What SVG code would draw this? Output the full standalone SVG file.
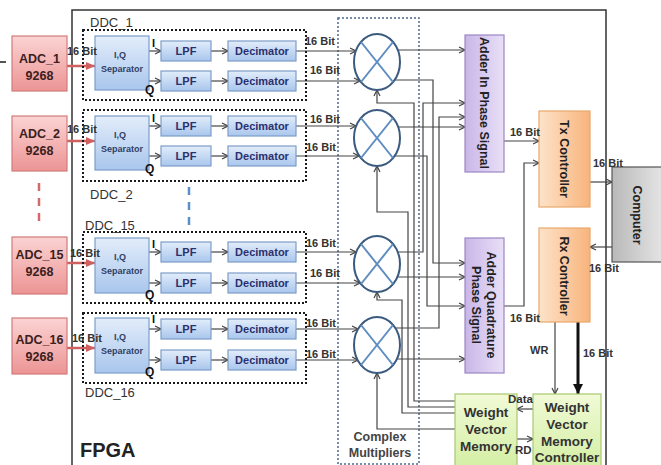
<svg xmlns="http://www.w3.org/2000/svg" width="661" height="465" viewBox="0 0 661 465">
<defs>
<linearGradient id="gRed" x1="0" y1="0" x2="0" y2="1"><stop offset="0" stop-color="#fbd3d3"/><stop offset="1" stop-color="#ec9494"/></linearGradient>
<linearGradient id="gBlue" x1="0" y1="0" x2="0" y2="1"><stop offset="0" stop-color="#e2edfa"/><stop offset="1" stop-color="#a9c6ed"/></linearGradient>
<linearGradient id="gPur" x1="0" y1="0" x2="1" y2="0"><stop offset="0" stop-color="#c9b6e8"/><stop offset="1" stop-color="#e9e0f7"/></linearGradient>
<linearGradient id="gOr" x1="0" y1="0" x2="1" y2="0"><stop offset="0" stop-color="#fde3c9"/><stop offset="1" stop-color="#f8b47c"/></linearGradient>
<linearGradient id="gGray" x1="0" y1="0" x2="1" y2="0"><stop offset="0" stop-color="#b9b9b9"/><stop offset="1" stop-color="#ececec"/></linearGradient>
<linearGradient id="gGrn" x1="0" y1="0" x2="0" y2="1"><stop offset="0" stop-color="#f1fad6"/><stop offset="1" stop-color="#d3eea3"/></linearGradient>
<marker id="a" markerWidth="8" markerHeight="8" refX="7" refY="4" orient="auto" markerUnits="userSpaceOnUse"><path d="M1,1 L7,4 L1,7" fill="none" stroke="#444" stroke-width="1.2"/></marker>
<marker id="ar" markerWidth="10" markerHeight="10" refX="9" refY="5" orient="auto" markerUnits="userSpaceOnUse"><path d="M0,1 L9,5 L0,9 Z" fill="#d06060"/></marker>
<marker id="ab" markerWidth="12" markerHeight="12" refX="10" refY="6" orient="auto" markerUnits="userSpaceOnUse"><path d="M0,1 L10,6 L0,11 Z" fill="#111"/></marker>
<style>
text{font-family:"Liberation Sans",Arial,sans-serif;}
.adc{fill:url(#gRed);stroke:#d37b7b;stroke-width:1.2}
.adct{font-size:12.5px;font-weight:bold;fill:#3a2020;text-anchor:middle}
.blue{fill:url(#gBlue);stroke:#7d9dc8;stroke-width:1.2}
.bt{font-size:11px;font-weight:bold;fill:#2b2f6e;text-anchor:middle}
.st{font-size:9px;font-weight:bold;fill:#2f3f66;text-anchor:middle}
.ddc{fill:none;stroke:#1a1a1a;stroke-width:2;stroke-dasharray:2 2}
.lbl{font-size:13px;fill:#333}
.bit{font-size:11px;font-weight:bold;fill:#333}
.iq{font-size:11px;font-weight:bold;fill:#111}
.ln{fill:none;stroke:#444;stroke-width:1.2}
.arr{fill:none;stroke:#444;stroke-width:1.2;marker-end:url(#a)}
.red{fill:none;stroke:#d06060;stroke-width:2.5;marker-end:url(#ar)}
.mul{fill:#fff;stroke:#3b5a80;stroke-width:2}
.mx{stroke:#5f8dc0;stroke-width:2}
.pur{fill:url(#gPur);stroke:#9a86c2;stroke-width:1.2}
.orn{fill:url(#gOr);stroke:#eaa86c;stroke-width:1.2}
.grn{fill:url(#gGrn);stroke:#a8c972;stroke-width:1.2}
.vt{font-size:12.5px;font-weight:bold;fill:#222;text-anchor:middle}
.gt{font-size:13.5px;font-weight:bold;fill:#333;text-anchor:middle}
</style>
</defs>
<rect width="661" height="465" fill="#fff"/>

<!-- FPGA boundary -->
<g id="fpga">
<path d="M72,465 V10 H606 V465" fill="none" stroke="#333" stroke-width="1.5"/>
<text x="80" y="457" style="font-size:20px;font-weight:bold;fill:#222">FPGA</text>
</g>

<!-- Complex multipliers region -->
<g id="complex-multipliers">
<rect x="338" y="18" width="81" height="446" fill="none" stroke="#4a6a8e" stroke-width="1.5" stroke-dasharray="2 2"/>
<text x="380" y="441" style="font-size:12.5px;font-weight:bold;fill:#444;text-anchor:middle">Complex</text>
<text x="380" y="457" style="font-size:12.5px;font-weight:bold;fill:#444;text-anchor:middle">Multipliers</text>
</g>

<!-- ellipsis dashes -->
<line x1="39" y1="183" x2="39" y2="226" stroke="#d36a6a" stroke-width="2.5" stroke-dasharray="8 7"/>
<line x1="189" y1="187" x2="189" y2="232" stroke="#5b8ec8" stroke-width="2.5" stroke-dasharray="8 7"/>

<!-- connectors -->
<g id="connectors">
<line x1="0" y1="62" x2="6" y2="62" stroke="#555" stroke-width="2"/>
<!-- ADC to separators -->
<path class="red" d="M67,66 H95"/>
<path class="red" d="M67,141 H95"/>
<path class="red" d="M67,263 H95"/>
<path class="red" d="M67,348 H95"/>
<!-- separator to LPF -->
<path class="arr" d="M149,51 H161"/><path class="arr" d="M149,81 H161"/>
<path class="arr" d="M149,126 H161"/><path class="arr" d="M149,156 H161"/>
<path class="arr" d="M149,252 H161"/><path class="arr" d="M149,283 H161"/>
<path class="arr" d="M149,329 H161"/><path class="arr" d="M149,360 H161"/>
<!-- LPF to decimator -->
<path class="arr" d="M211,51 H228"/><path class="arr" d="M211,81 H228"/>
<path class="arr" d="M211,126 H228"/><path class="arr" d="M211,156 H228"/>
<path class="arr" d="M211,252 H228"/><path class="arr" d="M211,283 H228"/>
<path class="arr" d="M211,329 H228"/><path class="arr" d="M211,360 H228"/>
<!-- decimator to multipliers -->
<path class="arr" d="M296,51 H356"/><path class="arr" d="M296,81 H360"/>
<path class="arr" d="M296,126 H356"/><path class="arr" d="M296,156 H359"/>
<path class="arr" d="M296,252 H356"/><path class="arr" d="M296,283 H360"/>
<path class="arr" d="M296,329 H358"/><path class="arr" d="M296,360 H358"/>
<!-- multiplier outputs -->
<path class="arr" d="M377,50 H465"/>
<path class="arr" d="M377,80 H433 V263 H465"/>
<path class="arr" d="M377,127 H465"/>
<path class="arr" d="M377,156 H427 V306 H465"/>
<path class="arr" d="M377,252 H423 V103 H465"/>
<path class="arr" d="M377,277 H465"/>
<path class="arr" d="M377,328 H439 V117 H465"/>
<path class="arr" d="M377,359 H465"/>
<!-- weights to multipliers -->
<path class="arr" d="M455,401 H414 V103 H377 V90"/>
<path class="arr" d="M455,407 H408 V212 H377 V166"/>
<path class="arr" d="M455,413 H402 V300 H377 V292"/>
<path class="arr" d="M455,429 H377 V373"/>
<!-- adders to Tx -->
<path class="arr" d="M504,141 H539"/>
<path class="arr" d="M504,306 H524 V163 H539"/>
<!-- Tx / Rx / computer -->
<path class="arr" d="M590,182 H612"/>
<path class="arr" d="M612,247 H590"/>
<!-- Rx to WVM controller -->
<path class="arr" d="M555,322 V394"/>
<path d="M578,322 V394" fill="none" stroke="#111" stroke-width="3" marker-end="url(#ab)"/>
<!-- Data / RD -->
<path class="arr" d="M533,409 H517"/>
<path class="arr" d="M517,439 H533"/>
</g>

<!-- ADCs -->
<g id="adc1"><rect class="adc" x="12" y="36" width="55" height="55"/><text class="adct" x="39.5" y="63">ADC_1</text><text class="adct" x="39.5" y="80">9268</text></g>
<g id="adc2"><rect class="adc" x="12" y="116" width="55" height="55"/><text class="adct" x="39.5" y="138">ADC_2</text><text class="adct" x="39.5" y="155">9268</text></g>
<g id="adc15"><rect class="adc" x="12" y="237" width="55" height="57"/><text class="adct" x="39.5" y="259">ADC_15</text><text class="adct" x="39.5" y="276">9268</text></g>
<g id="adc16"><rect class="adc" x="12" y="318" width="55" height="56"/><text class="adct" x="39.5" y="344">ADC_16</text><text class="adct" x="39.5" y="361">9268</text></g>

<!-- DDC 1 -->
<g id="ddc1">
<rect class="ddc" x="83" y="30" width="223" height="70"/>
<text class="lbl" x="90" y="27">DDC_1</text>
<rect class="blue" x="95" y="36" width="54" height="54"/>
<text class="st" x="120" y="58">I,Q</text><text class="st" x="122" y="72">Separator</text>
<text class="iq" x="152" y="47">I</text><text class="iq" x="145" y="94" style="font-size:12px">Q</text>
<rect class="blue" x="161" y="41" width="50" height="20"/><text class="bt" x="186" y="55">LPF</text>
<rect class="blue" x="161" y="71" width="50" height="20"/><text class="bt" x="186" y="85">LPF</text>
<rect class="blue" x="228" y="41" width="68" height="20"/><text class="bt" x="262" y="55">Decimator</text>
<rect class="blue" x="228" y="71" width="68" height="20"/><text class="bt" x="262" y="85">Decimator</text>
</g>
<!-- DDC 2 -->
<g id="ddc2">
<rect class="ddc" x="83" y="110" width="223" height="71"/>
<text class="lbl" x="90" y="199">DDC_2</text>
<rect class="blue" x="95" y="116" width="54" height="54"/>
<text class="st" x="120" y="138">I,Q</text><text class="st" x="122" y="152">Separator</text>
<text class="iq" x="152" y="122">I</text><text class="iq" x="145" y="173" style="font-size:12px">Q</text>
<rect class="blue" x="161" y="116" width="50" height="20"/><text class="bt" x="186" y="130">LPF</text>
<rect class="blue" x="161" y="146" width="50" height="20"/><text class="bt" x="186" y="160">LPF</text>
<rect class="blue" x="228" y="116" width="68" height="20"/><text class="bt" x="262" y="130">Decimator</text>
<rect class="blue" x="228" y="146" width="68" height="20"/><text class="bt" x="262" y="160">Decimator</text>
</g>
<!-- DDC 15 -->
<g id="ddc15">
<rect class="ddc" x="83" y="232" width="223" height="71"/>
<text class="lbl" x="85" y="230">DDC_15</text>
<rect class="blue" x="95" y="238" width="54" height="55"/>
<text class="st" x="120" y="260">I,Q</text><text class="st" x="122" y="274">Separator</text>
<text class="iq" x="152" y="248">I</text><text class="iq" x="145" y="299" style="font-size:12px">Q</text>
<rect class="blue" x="161" y="242" width="50" height="20"/><text class="bt" x="186" y="256">LPF</text>
<rect class="blue" x="161" y="273" width="50" height="20"/><text class="bt" x="186" y="287">LPF</text>
<rect class="blue" x="228" y="242" width="68" height="20"/><text class="bt" x="262" y="256">Decimator</text>
<rect class="blue" x="228" y="273" width="68" height="20"/><text class="bt" x="262" y="287">Decimator</text>
</g>
<!-- DDC 16 -->
<g id="ddc16">
<rect class="ddc" x="83" y="313" width="223" height="70"/>
<text class="lbl" x="85" y="397">DDC_16</text>
<rect class="blue" x="95" y="318" width="54" height="55"/>
<text class="st" x="120" y="340">I,Q</text><text class="st" x="122" y="354">Separator</text>
<text class="iq" x="152" y="323">I</text><text class="iq" x="145" y="376" style="font-size:12px">Q</text>
<rect class="blue" x="161" y="319" width="50" height="20"/><text class="bt" x="186" y="333">LPF</text>
<rect class="blue" x="161" y="350" width="50" height="20"/><text class="bt" x="186" y="364">LPF</text>
<rect class="blue" x="228" y="319" width="68" height="20"/><text class="bt" x="262" y="333">Decimator</text>
<rect class="blue" x="228" y="350" width="68" height="20"/><text class="bt" x="262" y="364">Decimator</text>
</g>

<!-- multipliers -->
<g id="mul1"><ellipse class="mul" cx="377" cy="62" rx="23" ry="28"/><line class="mx" x1="361" y1="42" x2="393" y2="82"/><line class="mx" x1="393" y1="42" x2="361" y2="82"/></g>
<g id="mul2"><ellipse class="mul" cx="377" cy="138" rx="23" ry="28"/><line class="mx" x1="361" y1="118" x2="393" y2="158"/><line class="mx" x1="393" y1="118" x2="361" y2="158"/></g>
<g id="mul3"><ellipse class="mul" cx="377" cy="264" rx="23" ry="28"/><line class="mx" x1="361" y1="244" x2="393" y2="284"/><line class="mx" x1="393" y1="244" x2="361" y2="284"/></g>
<g id="mul4"><ellipse class="mul" cx="377" cy="345" rx="23" ry="28"/><line class="mx" x1="361" y1="325" x2="393" y2="365"/><line class="mx" x1="393" y1="325" x2="361" y2="365"/></g>

<!-- adders -->
<g id="adder-in-phase"><rect class="pur" x="465" y="35" width="39" height="137"/><text class="vt" transform="translate(484,103) rotate(90)" y="4.5">Adder In Phase Signal</text></g>
<g id="adder-quadrature"><rect class="pur" x="465" y="238" width="39" height="135"/><text class="vt" transform="translate(484,305) rotate(90)"><tspan x="0" y="-3">Adder Quadrature</tspan><tspan x="0" y="12">Phase Signal</tspan></text></g>

<!-- controllers -->
<g id="tx-controller"><rect class="orn" x="539" y="111" width="51" height="96"/><text class="vt" transform="translate(564.5,159) rotate(90)" y="4.5">Tx Controller</text></g>
<g id="rx-controller"><rect class="orn" x="539" y="228" width="51" height="94"/><text class="vt" transform="translate(564.5,276) rotate(90)" y="4.5">Rx Controller</text></g>
<g id="computer"><rect x="612" y="167" width="60" height="95" fill="url(#gGray)" stroke="#555" stroke-width="1.2"/><text class="vt" transform="translate(637,215) rotate(90)" y="4.5">Computer</text></g>

<!-- weight vector memory -->
<g id="weight-memory"><rect class="grn" x="455" y="394" width="62" height="76"/><text class="gt" x="486" y="417">Weight</text><text class="gt" x="486" y="434">Vector</text><text class="gt" x="486" y="451">Memory</text></g>
<g id="weight-controller"><rect class="grn" x="533" y="394" width="68" height="76"/><text class="gt" x="567" y="412">Weight</text><text class="gt" x="567" y="429">Vector</text><text class="gt" x="567" y="446">Memory</text><text class="gt" x="567" y="462">Controller</text></g>

<!-- connector labels -->
<g id="connector-labels">
<text class="bit" x="67" y="55">16 Bit</text>
<text class="bit" x="67" y="133">16 Bit</text>
<text class="bit" x="70" y="257">16 Bit</text>
<text class="bit" x="72" y="342">16 Bit</text>
<text class="bit" x="305" y="45">16 Bit</text>
<text class="bit" x="310" y="74">16 Bit</text>
<text class="bit" x="310" y="123">16 Bit</text>
<text class="bit" x="306" y="151">16 Bit</text>
<text class="bit" x="306" y="247">16 Bit</text>
<text class="bit" x="310" y="277">16 Bit</text>
<text class="bit" x="306" y="327">16 Bit</text>
<text class="bit" x="306" y="358">16 Bit</text>
<text class="bit" x="510" y="136">16 Bit</text>
<text class="bit" x="510" y="322">16 Bit</text>
<text class="bit" x="593" y="167">16 Bit</text>
<text class="bit" x="589" y="272">16 Bit</text>
<text class="bit" x="530" y="354">WR</text>
<text class="bit" x="583" y="357">16 Bit</text>
<text class="bit" x="508" y="403" style="font-size:11.5px">Data</text>
<text class="bit" x="515" y="454" style="font-size:11.5px">RD</text>
</g>
</svg>
